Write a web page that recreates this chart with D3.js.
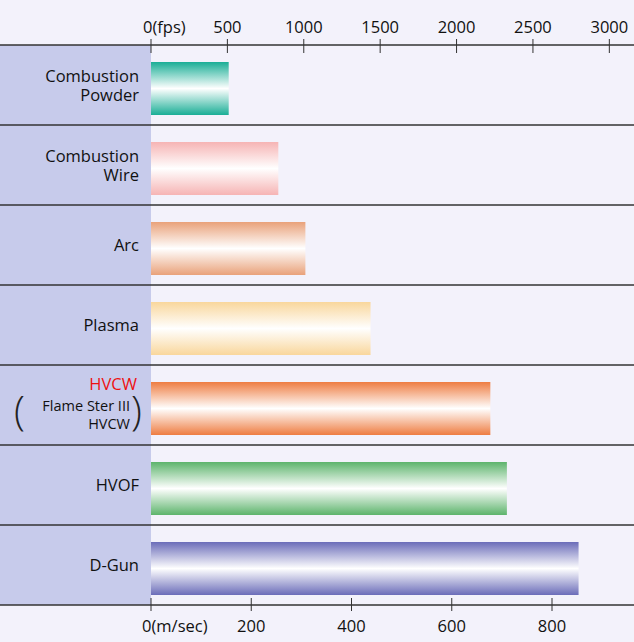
<!DOCTYPE html>
<html><head><meta charset="utf-8">
<script src="https://cdn.jsdelivr.net/npm/d3@7"></script>
<style>body{margin:0;background:#f3f2fb}text{font-family:"Open Sans",Roboto,sans-serif}</style>
</head><body>
<svg id="chart" width="634" height="642"></svg>
<script>
// processes and their particle velocity (m/sec)
const processes = ["Combustion Powder", "Combustion Wire", "Arc", "Plasma", "HVCW", "HVOF", "D-Gun"];
const velocities = [155, 254, 308, 438, 677, 710, 853];
const barColors = ["#1aae96", "#f6b4b4", "#e9a27a", "#f9d79c", "#ee7d42", "#5db46c", "#6b6db9"];
const msTicks = [0, 200, 400, 600, 800];
const fpsTicks = [0, 500, 1000, 1500, 2000, 2500, 3000];

var svg = d3.select("#chart");
var left = 151, mTop = 45, rowH = 80;

var x = d3.scaleLinear().domain([0, 800]).range([left, 552]);
var y = d3.scaleBand().domain(processes).range([mTop, mTop + rowH * processes.length]);

svg.append("rect").attr("width", 634).attr("height", 642).attr("fill", "#f3f2fb");
svg.append("rect").attr("x", 0).attr("y", mTop).attr("width", left).attr("height", rowH * processes.length).attr("fill", "#c7cbeb");

var defs = svg.append("defs");
barColors.forEach((c, i) => {
  let g = defs.append("linearGradient").attr("id", "g" + i).attr("x1", 0).attr("x2", 0).attr("y1", 0).attr("y2", 1);
  g.append("stop").attr("offset", "0%").attr("stop-color", c);
  g.append("stop").attr("offset", "50%").attr("stop-color", "#ffffff");
  g.append("stop").attr("offset", "100%").attr("stop-color", c);
});

// row lines
processes.concat([null]).forEach((p, i) => {
  svg.append("line").attr("x1", 0).attr("x2", 634)
    .attr("y1", mTop + i * rowH).attr("y2", mTop + i * rowH)
    .attr("stroke", "#333").attr("stroke-width", 1.3);
});

svg.selectAll(".bar").data(processes).enter().append("rect")
  .attr("x", left)
  .attr("y", d => y(d) + 17)
  .attr("width", (d, i) => x(velocities[i]) - left)
  .attr("height", 53)
  .attr("fill", (d, i) => "url(#g" + i + ")");

// labels
var labels = [["Combustion", "Powder"], ["Combustion", "Wire"], ["Arc"], ["Plasma"], null, ["HVOF"], ["D-Gun"]];
labels.forEach((lines, i) => {
  let cy = mTop + i * rowH + rowH / 2;
  if (!lines) return;
  lines.forEach((t, j) => {
    svg.append("text").attr("x", 139).attr("y", cy + (j - (lines.length - 1) / 2) * 19 + 6)
      .attr("text-anchor", "end").attr("font-size", 16.5).attr("fill", "#111").text(t);
  });
});
var hy = y("HVCW") + rowH / 2;
svg.append("text").attr("x", 137).attr("y", hy - 15).attr("text-anchor", "end").attr("font-size", 16.5).attr("fill", "#ee1111").text("HVCW");
svg.append("text").attr("x", 130).attr("y", hy + 6).attr("text-anchor", "end").attr("font-size", 14.5).attr("fill", "#111").text("Flame Ster III");
svg.append("text").attr("x", 130).attr("y", hy + 24).attr("text-anchor", "end").attr("font-size", 14.5).attr("fill", "#111").text("HVCW");
svg.append("text").attr("x", 14).attr("y", hy + 20).attr("font-size", 40).attr("font-weight", 100).attr("fill", "#222").text("(");
svg.append("text").attr("x", 131).attr("y", hy + 20).attr("font-size", 40).attr("font-weight", 100).attr("fill", "#222").text(")");

// bottom axis (m/sec)
var yb = mTop + rowH * processes.length;
svg.selectAll(".bt").data(msTicks).enter().append("line")
  .attr("x1", d => x(d)).attr("x2", d => x(d)).attr("y1", yb - 7).attr("y2", yb + 6)
  .attr("stroke", "#333");
svg.selectAll(".bl").data(msTicks).enter().append("text")
  .attr("x", d => x(d)).attr("y", yb + 27).attr("text-anchor", d => d == 0 ? "start" : "middle")
  .attr("dx", d => d == 0 ? -9 : 0)
  .attr("font-size", 16.5).attr("fill", "#111").text(d => d == 0 ? "0(m/sec)" : d);

// top axis (fps)
var xf = d => x(d * 0.3048);
svg.selectAll(".tt").data(fpsTicks).enter().append("line")
  .attr("x1", d => xf(d)).attr("x2", d => xf(d)).attr("y1", mTop - 6).attr("y2", mTop + 8)
  .attr("stroke", "#333");
svg.selectAll(".tl").data(fpsTicks).enter().append("text")
  .attr("x", d => xf(d)).attr("y", mTop - 12).attr("text-anchor", d => d == 0 ? "start" : "middle")
  .attr("dx", d => d == 0 ? -8 : 0)
  .attr("font-size", 16.5).attr("fill", "#111").text(d => d == 0 ? "0(fps)" : d);
</script>
</body></html>
